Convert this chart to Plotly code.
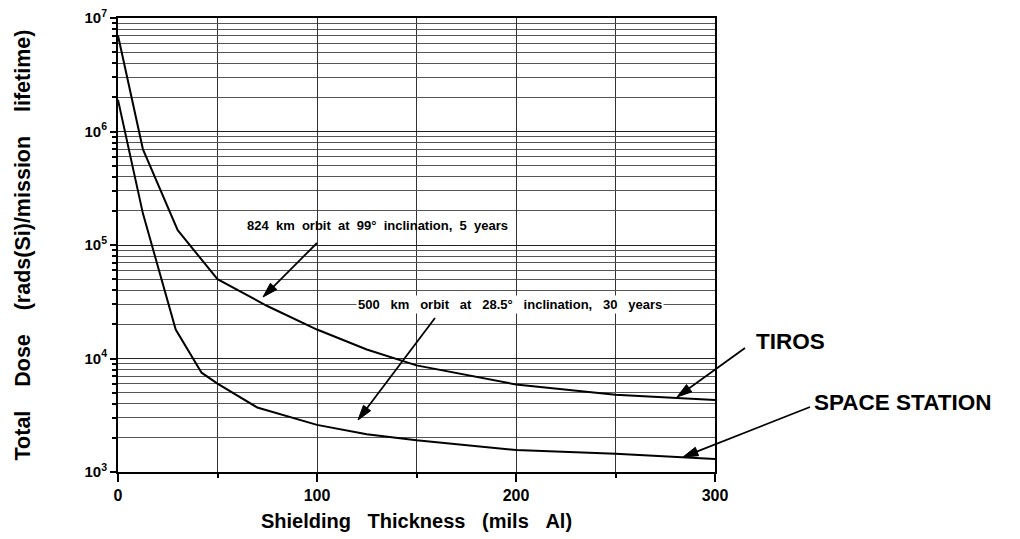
import math
import plotly.graph_objects as go

# ---- data ----
thickness_tiros = [0, 12.5, 30, 50, 75, 100, 125, 150, 200, 250, 300]
dose_tiros = [7.0e6, 7.0e5, 1.35e5, 5.0e4, 2.9e4, 1.8e4, 1.2e4, 8.7e3, 5.9e3, 4.8e3, 4.3e3]

thickness_ss = [0, 12.5, 29, 42, 50, 70, 100, 125, 150, 200, 250, 300]
dose_ss = [1.9e6, 1.9e5, 1.8e4, 7.5e3, 6.0e3, 3.7e3, 2.6e3, 2.15e3, 1.9e3, 1.56e3, 1.45e3, 1.3e3]

x_tickvals = [0, 100, 200, 300]
x_ticktext = ["0", "100", "200", "300"]
y_tickvals = [1e3, 1e4, 1e5, 1e6, 1e7]
y_ticktext = ["10<sup>3</sup>", "10<sup>4</sup>", "10<sup>5</sup>", "10<sup>6</sup>", "10<sup>7</sup>"]
y_minor = [k * 10 ** d for d in range(3, 7) for k in range(2, 10)]

FONT = "Liberation Sans, Arial, Helvetica, sans-serif"
NB = "&nbsp;"

# plot-area geometry (pixels) used to place the call-out arrows
L, T, W, H = 110, 10, 597, 454


def to_paper(px, py):
    return (px - L) / W, (T + H - py) / H


fig = go.Figure()
fig.add_trace(go.Scatter(x=thickness_tiros, y=dose_tiros, mode="lines",
                         line=dict(color="black", width=2), name="TIROS", showlegend=False))
fig.add_trace(go.Scatter(x=thickness_ss, y=dose_ss, mode="lines",
                         line=dict(color="black", width=2), name="SPACE STATION", showlegend=False))

fig.update_layout(
    width=1020, height=539,
    margin=dict(l=L, r=1020 - L - W, t=T, b=539 - T - H, autoexpand=False),
    paper_bgcolor="white", plot_bgcolor="white",
    font=dict(family=FONT, color="black"),
    xaxis=dict(
        range=[0, 300], tickvals=x_tickvals, ticktext=x_ticktext, automargin=False,
        ticklabeloverflow="allow",
        ticks="outside", ticklen=8, tickwidth=1.5, tickcolor="black",
        showgrid=True, gridcolor="#333", gridwidth=1,
        minor=dict(dtick=50, showgrid=True, gridcolor="#333", gridwidth=1,
                   ticks="outside", ticklen=4, tickcolor="black"),
        showline=True, linecolor="black", linewidth=2, mirror=True,
        zeroline=False,
        tickfont=dict(size=16, family=FONT, weight="bold"),
        title=dict(text="Shielding" + NB * 3 + "Thickness" + NB * 3 + "(mils" + NB * 3 + "Al)",
                   font=dict(size=20, family=FONT, weight="bold"), standoff=11),
    ),
    yaxis=dict(
        type="log", range=[3, 7], tickvals=y_tickvals, ticktext=y_ticktext, automargin=False,
        ticklabeloverflow="allow",
        ticks="outside", ticklen=6, tickwidth=1.5, tickcolor="black",
        showgrid=True, gridcolor="#222", gridwidth=1.2,
        showline=True, linecolor="black", linewidth=2, mirror=True,
        zeroline=False,
        tickfont=dict(size=15, family=FONT, weight="bold"),
        minor=dict(tickvals=y_minor, showgrid=True, gridcolor="#555", gridwidth=1,
                   ticks="outside", ticklen=4, tickcolor="black"),
        title=dict(text="Total" + NB * 4 + "Dose" + NB * 4 + "(rads(Si)/mission" + NB * 4 + "lifetime)",
                   font=dict(size=21.5, family=FONT, weight="bold"), standoff=48),
    ),
)

sp1 = NB + " "
sp2 = NB + NB + " "
annotations = [
    dict(x=130.4, y=5.176, xref="x", yref="y", showarrow=False,
         text=sp1.join(["824", "km", "orbit", "at", "99°", "inclination,", "5", "years"]),
         font=dict(size=13, family=FONT, weight="bold")),
    dict(x=197, y=4.477, xref="x", yref="y", showarrow=False, bgcolor="white", borderpad=1,
         text=sp2.join(["500", "km", "orbit", "at", "28.5°", "inclination,", "30", "years"]),
         font=dict(size=13, family=FONT, weight="bold")),
    dict(x=1.065, y=0.2885, xref="paper", yref="paper", xanchor="left", yanchor="middle",
         showarrow=False, text="TIROS", font=dict(size=22.5, family=FONT, weight="bold")),
    dict(x=1.1625, y=0.152, xref="paper", yref="paper", xanchor="left", yanchor="middle",
         showarrow=False, text="SPACE STATION", font=dict(size=22.5, family=FONT, weight="bold")),
]

# call-out arrows: (tail px, tip px) in figure pixels
arrows = [
    ((309, 235), (255, 289)),
    ((427, 310), (350, 412)),
    ((737, 340), (669, 389)),
    ((802, 399), (675, 449)),
]
shapes = []
for (tx, ty), (hx, hy) in arrows:
    ang = math.atan2(hy - ty, hx - tx)
    head_len, head_w = 15, 4.5
    bx, by = hx - head_len * math.cos(ang), hy - head_len * math.sin(ang)
    px_, py_ = -math.sin(ang), math.cos(ang)
    p_tail = to_paper(tx, ty)
    p_base = to_paper(bx + 3 * math.cos(ang), by + 3 * math.sin(ang))
    shapes.append(dict(type="line", xref="paper", yref="paper",
                       x0=p_tail[0], y0=p_tail[1], x1=p_base[0], y1=p_base[1],
                       line=dict(color="black", width=1.8)))
    a = to_paper(hx, hy)
    b = to_paper(bx + head_w * px_, by + head_w * py_)
    c = to_paper(bx - head_w * px_, by - head_w * py_)
    shapes.append(dict(type="path", xref="paper", yref="paper",
                       path=f"M {a[0]} {a[1]} L {b[0]} {b[1]} L {c[0]} {c[1]} Z",
                       fillcolor="black", line=dict(color="black", width=1)))

fig.update_layout(annotations=annotations, shapes=shapes)

fig.write_html("out.html")
